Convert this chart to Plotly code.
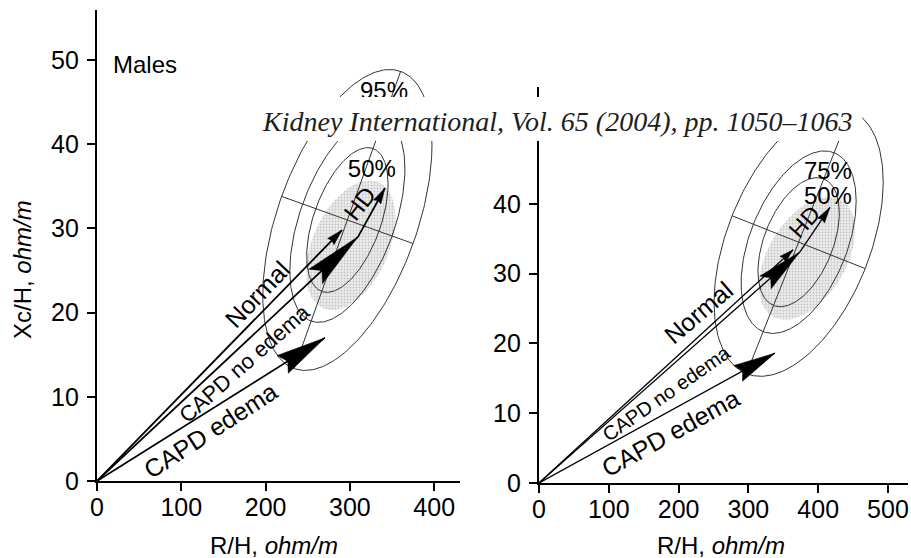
import numpy as np
import plotly.graph_objects as go

W, H = 911, 558
FONT = "Liberation Sans, Arial, sans-serif"

# ---------------- data ----------------
percent_levels = [50, 75, 95]

# reference (tolerance ellipse) parameters
male_ref_mean = [297.0, 31.0]      # R/H, Xc/H
male_ref_sd = [41.0, 7.3]
male_ref_r = 0.5
female_ref_mean = [372.0, 34.5]
female_ref_sd = [49.5, 7.85]
female_ref_r = 0.45

# shaded region: centre R/H, centre Xc/H, half-width R/H, half-height Xc/H, r
male_shade = [301.0, 28.0, 53.0, 7.7, 0.42]
female_shade = [384.0, 32.2, 69.0, 8.8, 0.45]

# mean vectors
groups = ["Normal", "CAPD no edema", "CAPD edema"]
male_R = [290.6, 309.6, 270.5]
male_Xc = [29.8, 29.0, 17.0]
female_R = [364.0, 373.9, 338.1]
female_Xc = [33.4, 33.1, 18.6]

# HD displacement arrow (start, end)
male_hd_R = [309.6, 341.6]
male_hd_Xc = [29.0, 34.8]
female_hd_R = [373.9, 416.9]
female_hd_Xc = [33.1, 39.5]

# visible percentage labels
male_pct_labels = ["50%", "95%"]
male_pct_R = [326, 340.5]
male_pct_Xc = [36.8, 46.1]
female_pct_labels = ["50%", "75%"]
female_pct_R = [414, 414]
female_pct_Xc = [40.8, 44.4]

x_ticks_left = [0, 100, 200, 300, 400]
y_ticks_left = [0, 10, 20, 30, 40, 50]
x_ticks_right = [0, 100, 200, 300, 400, 500]
y_ticks_right = [0, 10, 20, 30, 40]

# ---------------- layout geometry (pixels) ----------------
L_px = dict(x0=97, x1=460, y0=481, y1=10, xr=[0, 430.6], yr=[0, 55.94])
R_px = dict(x0=539, x1=908, y0=483, y1=87, xr=[0, 528.7], yr=[0, 56.73])


def scales(p):
    ppx = (p["x1"] - p["x0"]) / (p["xr"][1] - p["xr"][0])
    ppy = (p["y0"] - p["y1"]) / (p["yr"][1] - p["yr"][0])
    return ppx, ppy


def ellipse(mean, sd, r, k, n=240):
    t = np.linspace(0, 2 * np.pi, n)
    x = mean[0] + k * sd[0] * np.cos(t)
    y = mean[1] + k * sd[1] * (r * np.cos(t) + np.sqrt(1 - r * r) * np.sin(t))
    return x, y


def principal_axes(mean, sd, r, k, ppx, ppy):
    sxp, syp = sd[0] * ppx, sd[1] * ppy
    C = np.array([[sxp ** 2, r * sxp * syp], [r * sxp * syp, syp ** 2]])
    vals, vecs = np.linalg.eigh(C)
    segs = []
    for i in range(2):
        half = k * np.sqrt(vals[i])
        vx, vy = vecs[0, i] * half, vecs[1, i] * half
        segs.append(([mean[0] - vx / ppx, mean[0] + vx / ppx],
                     [mean[1] - vy / ppy, mean[1] + vy / ppy]))
    return segs


def arrow_head(x0, y0, x1, y1, ppx, ppy, L, Wd, notch=0.0):
    dx, dy = (x1 - x0) * ppx, (y1 - y0) * ppy
    n = np.hypot(dx, dy)
    ux, uy = dx / n, dy / n
    px_, py_ = -uy, ux
    bx, by = -L * ux, -L * uy
    pts = [(0, 0), (bx + Wd * px_, by + Wd * py_),
           (bx + notch * L * ux, by + notch * L * uy),
           (bx - Wd * px_, by - Wd * py_), (0, 0)]
    xs = [x1 + p[0] / ppx for p in pts]
    ys = [y1 + p[1] / ppy for p in pts]
    return xs, ys


fig = go.Figure()


def add_panel(xa, ya, p, mean, sd, r, shade, R, Xc, hdR, hdXc, heads, lw):
    ppx, ppy = scales(p)
    t = np.linspace(0, 2 * np.pi, 240)
    cx, cy, hw, hh, rr = shade
    sx = cx + hw * np.cos(t)
    sy = cy + hh * (rr * np.cos(t) + np.sqrt(1 - rr * rr) * np.sin(t))
    fig.add_trace(go.Scatter(
        x=sx, y=sy, xaxis=xa, yaxis=ya, mode="lines", line=dict(width=0),
        fill="toself", fillcolor="#e6e6e6",
        fillpattern=dict(shape=".", fgcolor="#9c9c9c", bgcolor="#ececec",
                         size=3, solidity=0.3),
        hoverinfo="skip", showlegend=False))
    for pc in percent_levels:
        k = np.sqrt(-2 * np.log(1 - pc / 100.0))
        ex, ey = ellipse(mean, sd, r, k)
        fig.add_trace(go.Scatter(x=ex, y=ey, xaxis=xa, yaxis=ya, mode="lines",
                                 line=dict(color="#333333", width=1),
                                 hoverinfo="skip", showlegend=False))
    k95 = np.sqrt(-2 * np.log(0.05))
    for segx, segy in principal_axes(mean, sd, r, k95, ppx, ppy):
        fig.add_trace(go.Scatter(x=segx, y=segy, xaxis=xa, yaxis=ya, mode="lines",
                                 line=dict(color="#333333", width=1),
                                 hoverinfo="skip", showlegend=False))
    for i in range(len(R)):
        fig.add_trace(go.Scatter(x=[0, R[i]], y=[0, Xc[i]], xaxis=xa, yaxis=ya,
                                 mode="lines", line=dict(color="black", width=lw),
                                 hoverinfo="skip", showlegend=False))
        Lh, Wh, nt = heads[i]
        hx, hy = arrow_head(0, 0, R[i], Xc[i], ppx, ppy, Lh, Wh, nt)
        fig.add_trace(go.Scatter(x=hx, y=hy, xaxis=xa, yaxis=ya, mode="lines",
                                 fill="toself", fillcolor="black",
                                 line=dict(color="black", width=0.5),
                                 hoverinfo="skip", showlegend=False))
    fig.add_trace(go.Scatter(x=hdR, y=hdXc, xaxis=xa, yaxis=ya, mode="lines",
                             line=dict(color="black", width=lw),
                             hoverinfo="skip", showlegend=False))
    hx, hy = arrow_head(hdR[0], hdXc[0], hdR[1], hdXc[1], ppx, ppy, 16, 4.2, 0.1)
    fig.add_trace(go.Scatter(x=hx, y=hy, xaxis=xa, yaxis=ya, mode="lines",
                             fill="toself", fillcolor="black",
                             line=dict(color="black", width=0.5),
                             hoverinfo="skip", showlegend=False))


add_panel("x", "y", L_px, male_ref_mean, male_ref_sd, male_ref_r, male_shade,
          male_R, male_Xc, male_hd_R, male_hd_Xc,
          heads=[(16, 4.5, 0.1), (58, 10, 0.15), (50, 10.5, 0.12)], lw=1.8)
add_panel("x2", "y2", R_px, female_ref_mean, female_ref_sd, female_ref_r, female_shade,
          female_R, female_Xc, female_hd_R, female_hd_Xc,
          heads=[(14, 4, 0.1), (46, 8.5, 0.15), (42, 9, 0.12)], lw=1.3)

fig.add_trace(go.Scatter(x=male_pct_R, y=male_pct_Xc, xaxis="x", yaxis="y",
                         mode="text", text=male_pct_labels,
                         textfont=dict(family=FONT, size=24, color="black"),
                         hoverinfo="skip", showlegend=False, cliponaxis=False))
fig.add_trace(go.Scatter(x=female_pct_R, y=female_pct_Xc, xaxis="x2", yaxis="y2",
                         mode="text", text=female_pct_labels,
                         textfont=dict(family=FONT, size=24, color="black"),
                         hoverinfo="skip", showlegend=False, cliponaxis=False))

axis_common = dict(showline=True, linecolor="black", linewidth=2.2, ticks="outside",
                   ticklen=8, tickwidth=2, tickcolor="black", showgrid=False,
                   zeroline=False, fixedrange=True, automargin=False,
                   tickfont=dict(family=FONT, size=25, color="black"))
x_common = dict(axis_common, ticklabelstandoff=-5)
y_common = dict(axis_common, ticklabelstandoff=3)

fig.update_layout(
    width=W, height=H,
    margin=dict(l=0, r=0, t=0, b=0, pad=0, autoexpand=False),
    paper_bgcolor="white", plot_bgcolor="white", showlegend=False,
    xaxis=dict(domain=[L_px["x0"] / W, L_px["x1"] / W], range=L_px["xr"], anchor="y",
               tickvals=x_ticks_left, **x_common),
    yaxis=dict(domain=[(H - L_px["y0"]) / H, (H - L_px["y1"]) / H], range=L_px["yr"],
               anchor="x", tickvals=y_ticks_left, **y_common),
    xaxis2=dict(domain=[R_px["x0"] / W, R_px["x1"] / W], range=R_px["xr"], anchor="y2",
                tickvals=x_ticks_right, **x_common),
    yaxis2=dict(domain=[(H - R_px["y0"]) / H, (H - R_px["y1"]) / H], range=R_px["yr"],
                anchor="x2", tickvals=y_ticks_right, **y_common),
)

# caption box covering the top
fig.add_shape(type="rect", xref="paper", yref="paper",
              x0=250 / W, x1=862 / W, y0=(H - 141) / H, y1=(H - 97) / H,
              fillcolor="white", line=dict(width=0), layer="above")

ann = []


def txt(text, x, y, xref, yref, size=24, angle=0, xanchor="center", yanchor="middle",
        family=FONT, color="black"):
    ann.append(dict(text=text, x=x, y=y, xref=xref, yref=yref, showarrow=False,
                    textangle=angle, xanchor=xanchor, yanchor=yanchor,
                    font=dict(family=family, size=size, color=color)))


txt("Normal", 190.4, 22.2, "x", "y", size=25, angle=-46.5)
txt("CAPD no edema", 175, 13.9, "x", "y", size=22, angle=-41.5)
txt("CAPD edema", 135.2, 6.06, "x", "y", size=25, angle=-33)
txt("HD", 312, 32.9, "x", "y", size=24, angle=-52)
txt("Males", 17, 49.5, "x", "y", size=24, xanchor="left")

txt("Normal", 229, 24.5, "x2", "y2", size=25, angle=-40.5)
txt("CAPD no edema", 183, 12.9, "x2", "y2", size=20, angle=-35)
txt("CAPD edema", 188, 7.2, "x2", "y2", size=25, angle=-29)
txt("HD", 380, 37.4, "x2", "y2", size=23, angle=-48)

txt("R/H, <i>ohm/m</i>", 274 / W, 1 - 545 / H, "paper", "paper", size=24)
txt("R/H, <i>ohm/m</i>", 721 / W, 1 - 545 / H, "paper", "paper", size=24)
txt("Xc/H, <i>ohm/m</i>", 22 / W, 1 - 270 / H, "paper", "paper", size=24, angle=-90)

txt("<i>Kidney International, Vol. 65 (2004), pp. 1050–1063</i>", 557 / W, 1 - 121 / H,
    "paper", "paper", size=28, family="Liberation Serif, Times New Roman, serif",
    color="#1e1e1e")

fig.update_layout(annotations=ann)
fig.write_html("out.html")
